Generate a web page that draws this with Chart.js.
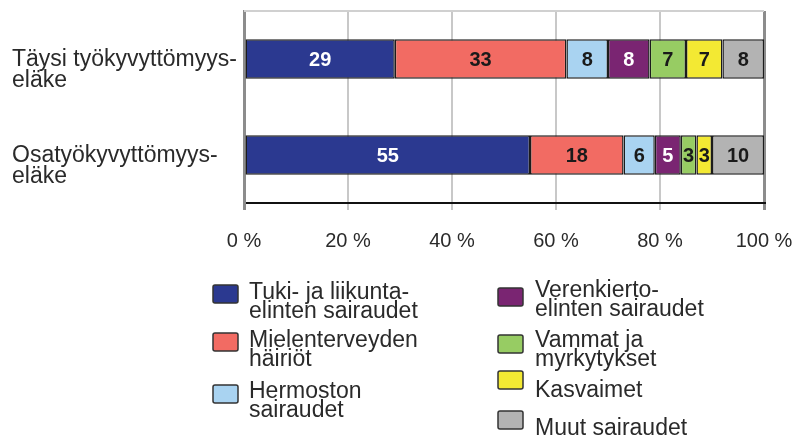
<!DOCTYPE html>
<html lang="fi">
<head>
<meta charset="UTF-8" />
<title>Työkyvyttömyyseläkkeet sairausryhmittäin</title>
<script src="https://cdn.jsdelivr.net/npm/chart.js"></script>
<style>
  html, body {
    margin: 0;
    padding: 0;
    background: #ffffff;
  }
  #wrap {
    width: 797px;
    height: 439px;
  }
</style>
</head>
<body>
<div id="wrap"><canvas id="chart" width="797" height="439"></canvas></div>
<script>
// categories (two-line labels)
const categories = [
  ['Täysi työkyvyttömyys-', 'eläke'],
  ['Osatyökyvyttömyys-', 'eläke']
];

// series names, as shown in the legend
const seriesNames = [
  ['Tuki- ja liikunta-', 'elinten sairaudet'],
  ['Mielenterveyden', 'häiriöt'],
  ['Hermoston', 'sairaudet'],
  ['Verenkierto-', 'elinten sairaudet'],
  ['Vammat ja', 'myrkytykset'],
  ['Kasvaimet'],
  ['Muut sairaudet']
];

// values, % per category
const tuki = [29, 55];
const mielenterveys = [33, 18];
const hermosto = [8, 6];
const verenkierto = [8, 5];
const vammat = [7, 3];
const kasvaimet = [7, 3];
const muut = [8, 10];

const xTicks = [0, 20, 40, 60, 80, 100];

const seriesValues = [tuki, mielenterveys, hermosto, verenkierto, vammat, kasvaimet, muut];
const colors = ['#2b3990', '#f26b63', '#a9d3f1', '#7a2572', '#97cc63', '#f3e933', '#b3b3b3'];
const labelColors = ['#ffffff', '#1a1a1a', '#1a1a1a', '#ffffff', '#1a1a1a', '#1a1a1a', '#1a1a1a'];

const FONT = "'Liberation Sans', Arial, sans-serif";
const TEXT = '#2a2a2a';

// legend slots: [boxX, boxY, textX, firstBaseline]
const legendSlots = [
  [213, 285, 249, 299],
  [213, 333, 249, 347],
  [213, 385, 249, 398],
  [498, 288, 535, 297],
  [498, 335, 535, 347],
  [498, 371, 535, 397],
  [498, 411, 535, 435]
];

const datasets = seriesValues.map((vals, i) => ({
  label: seriesNames[i].join(' '),
  data: vals,
  backgroundColor: colors[i],
  borderColor: '#1c1c1c',
  borderWidth: 1.5,
  borderSkipped: false,
  categoryPercentage: 0.41,
  barPercentage: 1
}));

const barLabels = {
  id: 'barLabels',
  afterDatasetsDraw(chart) {
    const ctx = chart.ctx;
    ctx.save();
    ctx.font = 'bold 20px ' + FONT;
    ctx.textAlign = 'center';
    ctx.textBaseline = 'middle';
    chart.data.datasets.forEach((ds, i) => {
      chart.getDatasetMeta(i).data.forEach((bar, j) => {
        ctx.fillStyle = labelColors[i];
        ctx.fillText(String(ds.data[j]), (bar.x + bar.base) / 2, bar.y + 1);
      });
    });
    ctx.restore();
  }
};

const frameAndLegend = {
  id: 'frameAndLegend',
  afterDraw(chart) {
    const ctx = chart.ctx;
    const a = chart.chartArea;
    ctx.save();
    // light top edge of plot
    ctx.strokeStyle = '#d0d0d0';
    ctx.lineWidth = 2;
    ctx.beginPath();
    ctx.moveTo(a.left, a.top);
    ctx.lineTo(a.right, a.top);
    ctx.stroke();

    // legend
    ctx.font = '23px ' + FONT;
    ctx.textAlign = 'left';
    ctx.textBaseline = 'alphabetic';
    chart.data.datasets.forEach((ds, i) => {
      const s = legendSlots[i];
      ctx.fillStyle = ds.backgroundColor;
      ctx.strokeStyle = '#333333';
      ctx.lineWidth = 1.5;
      ctx.beginPath();
      ctx.roundRect(s[0], s[1], 25, 18, 2);
      ctx.fill();
      ctx.stroke();
      ctx.fillStyle = TEXT;
      seriesNames[i].forEach((line, k) => {
        ctx.fillText(line, s[2], s[3] + k * 19);
      });
    });
    ctx.restore();
  }
};

new Chart(document.getElementById('chart'), {
  type: 'bar',
  data: { labels: categories, datasets: datasets },
  options: {
    indexAxis: 'y',
    responsive: false,
    animation: false,
    layout: { padding: { top: 11, right: 33, bottom: 176, left: 12 } },
    plugins: {
      legend: { display: false },
      tooltip: { enabled: false }
    },
    scales: {
      x: {
        stacked: true,
        min: 0,
        max: 100,
        afterBuildTicks: s => { s.ticks = xTicks.map(v => ({ value: v })); },
        afterFit: s => {
          s.height = 60;
          s.paddingLeft = 0;
          s.paddingRight = 0;
        },
        ticks: {
          callback: v => v + ' %',
          font: { family: FONT, size: 20 },
          color: TEXT,
          padding: 19,
          maxRotation: 0
        },
        grid: {
          color: c => (c.tick && (c.tick.value === 0 || c.tick.value === 100)) ? '#8c8c8c' : '#c8c8c8',
          lineWidth: c => (c.tick && (c.tick.value === 0 || c.tick.value === 100)) ? 3 : 2,
          tickLength: 7
        },
        border: { color: '#111111', width: 2 }
      },
      y: {
        stacked: true,
        afterFit: s => {
          s.width = 232;
          s.paddingTop = 0;
          s.paddingBottom = 0;
        },
        ticks: {
          font: { family: FONT, size: 23, lineHeight: 0.91 },
          color: TEXT,
          crossAlign: 'far',
          labelOffset: 11,
          padding: 6
        },
        grid: { display: false },
        border: { color: '#8c8c8c', width: 3 }
      }
    }
  },
  plugins: [barLabels, frameAndLegend]
});
</script>
</body>
</html>
